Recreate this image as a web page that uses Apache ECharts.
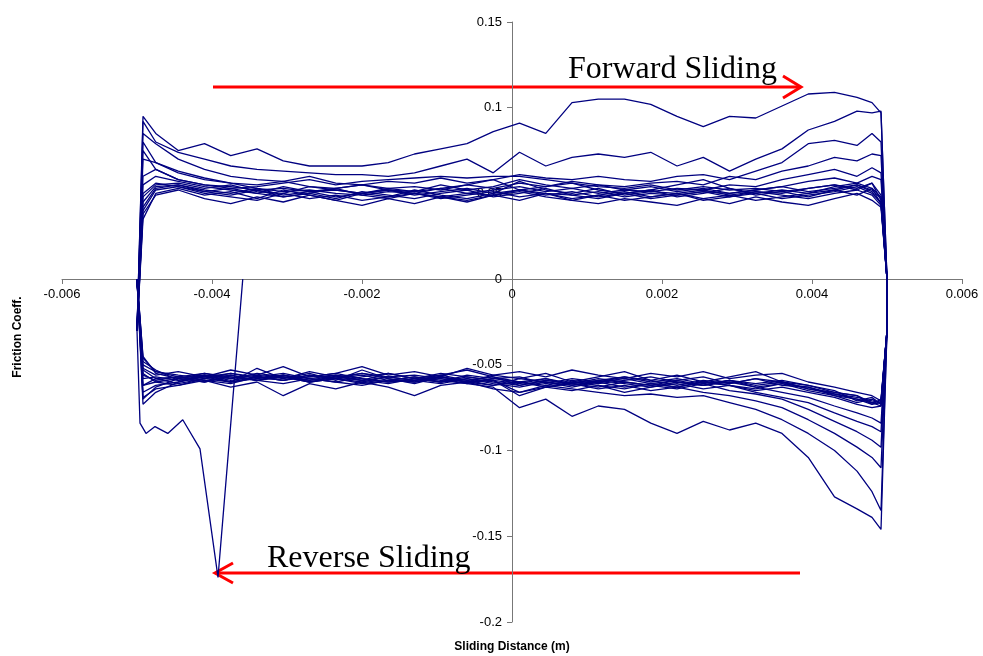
<!DOCTYPE html>
<html>
<head>
<meta charset="utf-8">
<script src="https://cdn.jsdelivr.net/npm/echarts@6/dist/echarts.min.js"></script>
<style>
  html, body { margin: 0; padding: 0; background: #fff; }
  #chart { width: 983px; height: 656px; }
</style>
</head>
<body>
<div id="chart"></div>
<script>
// sliding positions (m) shared by every stroke
const xPos = [-0.005, -0.00492, -0.00475, -0.00445, -0.0041, -0.00375, -0.0034, -0.00305, -0.0027, -0.00235, -0.002, -0.00165, -0.0013, -0.00095, -0.0006, -0.00025, 0.0001, 0.00045, 0.0008, 0.00115, 0.0015, 0.00185, 0.0022, 0.00255, 0.0029, 0.00325, 0.0036, 0.00395, 0.0043, 0.0046, 0.0048, 0.00492, 0.005]

// run-in: first partial reverse stroke before the first forward stroke
const startX = [-0.00359, -0.00392, -0.00416, -0.00439, -0.00459, -0.00476, -0.00488, -0.00496]
const startY = [0.000, -0.174, -0.099, -0.082, -0.090, -0.086, -0.090, -0.084]

// forward strokes (friction at each xPos)
const fwd1 = [-0.030, 0.095, 0.085, 0.075, 0.079, 0.072, 0.076, 0.069, 0.066, 0.066, 0.066, 0.068, 0.073, 0.076, 0.079, 0.086, 0.091, 0.085, 0.103, 0.105, 0.105, 0.102, 0.095, 0.089, 0.095, 0.094, 0.101, 0.108, 0.109, 0.106, 0.103, 0.097, 0.000]
const fwd2 = [-0.030, 0.092, 0.080, 0.074, 0.070, 0.066, 0.064, 0.063, 0.062, 0.061, 0.061, 0.060, 0.062, 0.066, 0.070, 0.062, 0.074, 0.066, 0.071, 0.073, 0.071, 0.074, 0.066, 0.071, 0.063, 0.070, 0.076, 0.087, 0.092, 0.098, 0.097, 0.098, 0.000]
const fwd3 = [-0.030, 0.085, 0.079, 0.070, 0.064, 0.060, 0.058, 0.057, 0.060, 0.056, 0.055, 0.057, 0.056, 0.059, 0.056, 0.058, 0.061, 0.059, 0.058, 0.060, 0.058, 0.057, 0.060, 0.061, 0.058, 0.063, 0.068, 0.079, 0.081, 0.078, 0.085, 0.080, 0.000]
const fwd4 = [-0.030, 0.080, 0.068, 0.062, 0.058, 0.056, 0.055, 0.057, 0.054, 0.053, 0.055, 0.053, 0.054, 0.052, 0.055, 0.053, 0.056, 0.054, 0.057, 0.055, 0.054, 0.056, 0.057, 0.055, 0.060, 0.058, 0.063, 0.066, 0.071, 0.069, 0.073, 0.072, 0.000]
const fwd5 = [-0.030, 0.075, 0.064, 0.058, 0.055, 0.054, 0.052, 0.053, 0.051, 0.052, 0.050, 0.052, 0.051, 0.053, 0.050, 0.052, 0.054, 0.051, 0.053, 0.050, 0.052, 0.051, 0.053, 0.052, 0.055, 0.054, 0.058, 0.061, 0.064, 0.060, 0.065, 0.062, 0.000]
const fwd6 = [-0.030, 0.070, 0.068, 0.063, 0.059, 0.056, 0.053, 0.051, 0.052, 0.050, 0.049, 0.051, 0.050, 0.048, 0.050, 0.049, 0.052, 0.050, 0.049, 0.051, 0.048, 0.050, 0.049, 0.051, 0.050, 0.052, 0.054, 0.057, 0.059, 0.056, 0.060, 0.058, 0.000]
const fwd7 = [-0.030, 0.045, 0.054, 0.055, 0.052, 0.050, 0.053, 0.049, 0.051, 0.048, 0.050, 0.052, 0.049, 0.051, 0.053, 0.050, 0.057, 0.052, 0.050, 0.053, 0.049, 0.051, 0.050, 0.052, 0.049, 0.051, 0.050, 0.053, 0.055, 0.052, 0.056, 0.046, 0.000]
const fwd8 = [-0.030, 0.040, 0.052, 0.054, 0.050, 0.048, 0.046, 0.050, 0.047, 0.049, 0.046, 0.048, 0.050, 0.047, 0.049, 0.051, 0.048, 0.050, 0.047, 0.049, 0.046, 0.048, 0.050, 0.047, 0.049, 0.046, 0.048, 0.050, 0.052, 0.049, 0.053, 0.044, 0.000]
const fwd9 = [-0.030, 0.035, 0.050, 0.053, 0.049, 0.051, 0.047, 0.052, 0.049, 0.046, 0.050, 0.048, 0.052, 0.049, 0.047, 0.050, 0.052, 0.049, 0.051, 0.048, 0.050, 0.047, 0.049, 0.051, 0.048, 0.050, 0.047, 0.049, 0.051, 0.054, 0.050, 0.045, 0.000]
const fwd10 = [-0.030, 0.048, 0.055, 0.056, 0.053, 0.055, 0.051, 0.050, 0.054, 0.052, 0.050, 0.053, 0.051, 0.055, 0.052, 0.054, 0.058, 0.055, 0.053, 0.055, 0.052, 0.054, 0.051, 0.053, 0.050, 0.052, 0.054, 0.051, 0.053, 0.055, 0.052, 0.047, 0.000]
const fwd11 = [-0.030, 0.038, 0.049, 0.052, 0.047, 0.044, 0.048, 0.045, 0.049, 0.046, 0.043, 0.047, 0.044, 0.048, 0.045, 0.049, 0.046, 0.050, 0.046, 0.044, 0.047, 0.045, 0.043, 0.047, 0.044, 0.048, 0.045, 0.043, 0.047, 0.050, 0.046, 0.042, 0.000]
const fwd12 = [-0.030, 0.060, 0.064, 0.058, 0.055, 0.053, 0.054, 0.056, 0.058, 0.055, 0.057, 0.058, 0.059, 0.060, 0.059, 0.060, 0.060, 0.058, 0.056, 0.054, 0.053, 0.055, 0.052, 0.054, 0.052, 0.053, 0.051, 0.053, 0.055, 0.053, 0.056, 0.049, 0.000]
const fwd13 = [-0.030, 0.050, 0.056, 0.054, 0.051, 0.049, 0.052, 0.048, 0.050, 0.053, 0.049, 0.047, 0.050, 0.048, 0.046, 0.049, 0.051, 0.048, 0.046, 0.049, 0.051, 0.048, 0.050, 0.046, 0.048, 0.051, 0.049, 0.047, 0.050, 0.052, 0.049, 0.043, 0.000]
const fwd14 = [-0.030, 0.042, 0.053, 0.055, 0.051, 0.053, 0.050, 0.048, 0.050, 0.047, 0.051, 0.049, 0.047, 0.050, 0.052, 0.048, 0.050, 0.053, 0.049, 0.047, 0.050, 0.052, 0.048, 0.050, 0.053, 0.049, 0.051, 0.048, 0.052, 0.055, 0.051, 0.044, 0.000]
const fwd15 = [-0.030, 0.055, 0.060, 0.057, 0.054, 0.052, 0.050, 0.054, 0.051, 0.053, 0.055, 0.052, 0.050, 0.053, 0.055, 0.058, 0.052, 0.054, 0.056, 0.052, 0.050, 0.052, 0.055, 0.058, 0.053, 0.050, 0.052, 0.050, 0.054, 0.056, 0.053, 0.048, 0.000]

// reverse strokes, listed in xPos order (travel is right to left)
const rev1 = [0.000, -0.062, -0.058, -0.057, -0.060, -0.056, -0.059, -0.057, -0.060, -0.058, -0.061, -0.059, -0.060, -0.058, -0.061, -0.063, -0.075, -0.070, -0.080, -0.074, -0.076, -0.084, -0.090, -0.083, -0.088, -0.084, -0.090, -0.104, -0.127, -0.134, -0.139, -0.146, -0.030]
const rev2 = [0.000, -0.070, -0.063, -0.058, -0.056, -0.059, -0.057, -0.055, -0.058, -0.056, -0.059, -0.057, -0.056, -0.058, -0.060, -0.059, -0.066, -0.062, -0.064, -0.066, -0.068, -0.067, -0.069, -0.068, -0.072, -0.076, -0.082, -0.090, -0.100, -0.112, -0.124, -0.135, -0.030]
const rev3 = [0.000, -0.073, -0.066, -0.060, -0.057, -0.055, -0.058, -0.056, -0.059, -0.057, -0.055, -0.058, -0.060, -0.057, -0.059, -0.062, -0.060, -0.063, -0.061, -0.064, -0.062, -0.065, -0.063, -0.066, -0.068, -0.071, -0.075, -0.082, -0.090, -0.098, -0.104, -0.110, -0.030]
const rev4 = [0.000, -0.069, -0.064, -0.062, -0.058, -0.060, -0.057, -0.059, -0.056, -0.058, -0.060, -0.057, -0.059, -0.061, -0.058, -0.060, -0.062, -0.059, -0.061, -0.063, -0.060, -0.062, -0.064, -0.061, -0.065, -0.067, -0.070, -0.076, -0.083, -0.089, -0.094, -0.098, -0.030]
const rev5 = [0.000, -0.066, -0.062, -0.060, -0.056, -0.058, -0.055, -0.057, -0.059, -0.056, -0.058, -0.060, -0.058, -0.055, -0.057, -0.059, -0.068, -0.063, -0.060, -0.062, -0.064, -0.061, -0.063, -0.060, -0.062, -0.066, -0.069, -0.072, -0.078, -0.083, -0.086, -0.089, -0.030]
const rev6 = [0.000, -0.062, -0.060, -0.058, -0.055, -0.057, -0.059, -0.056, -0.058, -0.060, -0.057, -0.055, -0.058, -0.060, -0.057, -0.059, -0.061, -0.058, -0.062, -0.059, -0.061, -0.063, -0.060, -0.062, -0.059, -0.063, -0.066, -0.069, -0.074, -0.078, -0.081, -0.084, -0.030]
const rev7 = [0.000, -0.050, -0.054, -0.056, -0.058, -0.055, -0.057, -0.059, -0.056, -0.058, -0.055, -0.057, -0.059, -0.056, -0.053, -0.057, -0.060, -0.058, -0.061, -0.059, -0.057, -0.060, -0.058, -0.061, -0.059, -0.062, -0.060, -0.064, -0.067, -0.069, -0.071, -0.072, -0.030]
const rev8 = [0.000, -0.048, -0.053, -0.059, -0.056, -0.060, -0.052, -0.058, -0.055, -0.059, -0.053, -0.058, -0.061, -0.057, -0.060, -0.056, -0.058, -0.055, -0.060, -0.057, -0.054, -0.059, -0.056, -0.060, -0.057, -0.054, -0.060, -0.062, -0.066, -0.068, -0.073, -0.070, -0.030]
const rev9 = [0.000, -0.045, -0.055, -0.058, -0.060, -0.057, -0.059, -0.061, -0.058, -0.060, -0.062, -0.059, -0.057, -0.060, -0.058, -0.061, -0.063, -0.060, -0.062, -0.060, -0.063, -0.061, -0.059, -0.062, -0.060, -0.063, -0.061, -0.065, -0.068, -0.072, -0.070, -0.073, -0.030]
const rev10 = [0.000, -0.055, -0.060, -0.062, -0.059, -0.063, -0.060, -0.068, -0.061, -0.064, -0.060, -0.063, -0.068, -0.062, -0.060, -0.064, -0.066, -0.063, -0.065, -0.062, -0.066, -0.063, -0.061, -0.064, -0.062, -0.065, -0.063, -0.066, -0.069, -0.073, -0.075, -0.074, -0.030]
const rev11 = [0.000, -0.052, -0.056, -0.054, -0.057, -0.053, -0.056, -0.051, -0.057, -0.055, -0.051, -0.056, -0.054, -0.057, -0.052, -0.056, -0.054, -0.057, -0.053, -0.056, -0.058, -0.055, -0.057, -0.054, -0.058, -0.056, -0.055, -0.060, -0.063, -0.066, -0.068, -0.071, -0.030]
const rev12 = [0.000, -0.058, -0.057, -0.059, -0.057, -0.060, -0.058, -0.056, -0.060, -0.057, -0.059, -0.061, -0.058, -0.056, -0.059, -0.057, -0.062, -0.059, -0.061, -0.058, -0.060, -0.062, -0.059, -0.057, -0.061, -0.058, -0.062, -0.063, -0.067, -0.070, -0.072, -0.071, -0.030]
const rev13 = [0.000, -0.046, -0.054, -0.057, -0.055, -0.058, -0.056, -0.058, -0.054, -0.057, -0.059, -0.055, -0.058, -0.060, -0.056, -0.058, -0.057, -0.061, -0.058, -0.060, -0.057, -0.059, -0.062, -0.059, -0.061, -0.058, -0.060, -0.064, -0.066, -0.068, -0.072, -0.074, -0.030]
const rev14 = [0.000, -0.053, -0.058, -0.061, -0.058, -0.056, -0.059, -0.057, -0.060, -0.058, -0.056, -0.059, -0.057, -0.059, -0.061, -0.058, -0.060, -0.062, -0.059, -0.061, -0.059, -0.057, -0.060, -0.062, -0.059, -0.061, -0.059, -0.062, -0.065, -0.071, -0.069, -0.073, -0.030]
const rev15 = [0.000, -0.056, -0.059, -0.057, -0.059, -0.061, -0.057, -0.059, -0.057, -0.055, -0.058, -0.060, -0.059, -0.057, -0.060, -0.062, -0.058, -0.060, -0.063, -0.060, -0.058, -0.061, -0.063, -0.060, -0.062, -0.064, -0.061, -0.063, -0.068, -0.070, -0.073, -0.072, -0.030]

const cycles = [
  [fwd1, rev1], [fwd2, rev2], [fwd3, rev3], [fwd4, rev4], [fwd5, rev5],
  [fwd6, rev6], [fwd7, rev7], [fwd8, rev8], [fwd9, rev9], [fwd10, rev10],
  [fwd11, rev11], [fwd12, rev12], [fwd13, rev13], [fwd14, rev14], [fwd15, rev15]
]

// one closed loop per cycle: forward left->right, then reverse right->left
function loopData(fwd, rev) {
  const pts = fwd.map((y, i) => [xPos[i], y])
  for (let i = rev.length - 1; i >= 0; i--) pts.push([xPos[i], rev[i]])
  return pts
}

const series = cycles.map(([f, r], k) => {
  let data = loopData(f, r)
  if (k === 0) data = startX.map((x, i) => [x, startY[i]]).concat(data)
  return {
    type: 'line',
    data: data,
    showSymbol: false,
    silent: true,
    lineStyle: { color: '#000080', width: 1.3 },
    itemStyle: { color: '#000080' }
  }
})

const axisFont = { color: '#000', fontSize: 13, fontFamily: 'Liberation Sans, Arial, sans-serif' }

// grid 62..962 x 22..622 ; axes cross at data zero (x=512, y=279)
const mychart = echarts.init(document.getElementById('chart'))
mychart.setOption({
  animation: false,
  backgroundColor: '#fff',
  grid: { left: 62, right: 21, top: 22, bottom: 34, containLabel: false, outerBoundsMode: 'none' },
  xAxis: {
    type: 'value',
    position: 'bottom',
    offset: -343,
    min: -0.006,
    max: 0.006,
    interval: 0.002,
    splitLine: { show: false },
    axisLine: { onZero: false, lineStyle: { color: '#777', width: 1 } },
    axisTick: { show: true, length: 5, lineStyle: { color: '#777' } },
    axisLabel: Object.assign({ margin: 9, showMinLabel: true, showMaxLabel: true }, axisFont)
  },
  yAxis: {
    type: 'value',
    position: 'left',
    offset: -450,
    min: -0.2,
    max: 0.15,
    interval: 0.05,
    splitLine: { show: false },
    axisLine: { onZero: false, lineStyle: { color: '#777', width: 1 } },
    axisTick: { show: true, length: 5, lineStyle: { color: '#777' } },
    axisLabel: Object.assign({ margin: 10 }, axisFont)
  },
  series: series,
  graphic: [
    // axis titles
    {
      type: 'text', x: 18, y: 337, rotation: Math.PI / 2,
      style: { text: 'Friction Coeff.', fill: '#000', font: 'bold 12px Liberation Sans, Arial, sans-serif', align: 'center', verticalAlign: 'middle' }
    },
    {
      type: 'text', x: 512, y: 647,
      style: { text: 'Sliding Distance (m)', fill: '#000', font: 'bold 12px Liberation Sans, Arial, sans-serif', align: 'center', verticalAlign: 'middle' }
    },
    // forward arrow
    { type: 'line', shape: { x1: 213, y1: 87, x2: 800, y2: 87 }, style: { stroke: '#ff0000', lineWidth: 3 } },
    { type: 'polyline', shape: { points: [[783, 76], [801, 87], [783, 98]] }, style: { stroke: '#ff0000', lineWidth: 3, fill: null } },
    {
      type: 'text', x: 568, y: 70,
      style: { text: 'Forward Sliding', fill: '#000', font: '32px Liberation Serif, Times New Roman, serif', align: 'left', verticalAlign: 'middle' }
    },
    // reverse arrow
    { type: 'line', shape: { x1: 800, y1: 573, x2: 216, y2: 573 }, style: { stroke: '#ff0000', lineWidth: 3 } },
    { type: 'polyline', shape: { points: [[233, 563], [215, 573], [233, 583]] }, style: { stroke: '#ff0000', lineWidth: 3, fill: null } },
    {
      type: 'text', x: 267, y: 559,
      style: { text: 'Reverse Sliding', fill: '#000', font: '32px Liberation Serif, Times New Roman, serif', align: 'left', verticalAlign: 'middle' }
    }
  ]
})
</script>
</body>
</html>
